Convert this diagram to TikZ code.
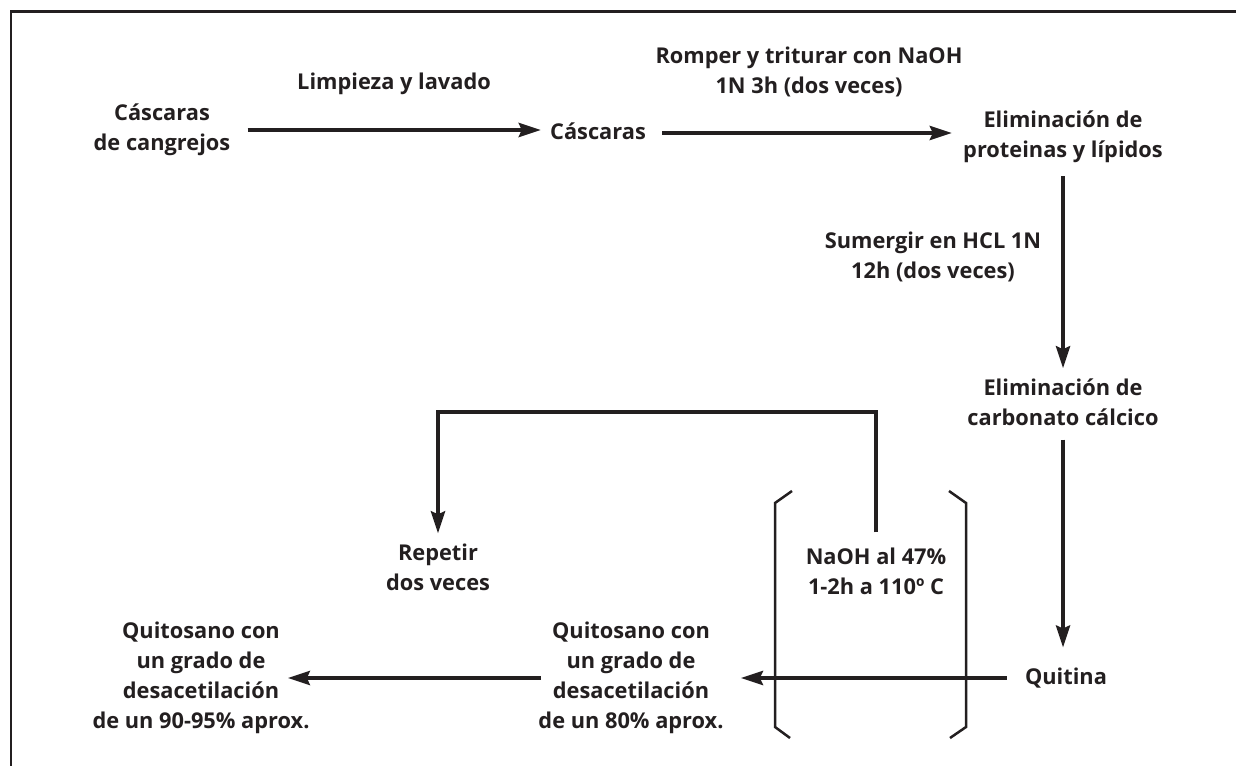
\documentclass[tikz,border=0pt]{standalone}
\usepackage{fontspec}
\setmainfont{Open Sans}[Ligatures=NoCommon]
\usetikzlibrary{arrows.meta}
\definecolor{tinta}{RGB}{35,31,32}

\begin{document}
\begin{tikzpicture}[x=0.02cm, y=-0.02cm, color=tinta,
    texto/.style={align=center, inner sep=0pt, font=\bfseries\fontsize{12.4}{17}\selectfont},
    flecha/.style={line width=0.08cm, line join=miter, -{Stealth[length=0.44cm, width=0.28cm, inset=0.06cm]}},
    corchete/.style={line width=0.05cm}]
	%%%%% START %%%%%
	
	\useasboundingbox (0,0) rectangle (1236,766);
	\draw[line width=0.06cm] (1236,12) -- (11,12) -- (11,766);
	
	\node[texto] (cangrejos) at (162,130) {Cáscaras\\de cangrejos};
	\node[texto] (cascaras) at (598,131) {Cáscaras};
	\node[texto] (proteinas) at (1063,137) {Eliminación de\\proteinas y lípidos};
	\node[texto] (carbonato) at (1063,402) {Eliminación de\\carbonato cálcico};
	\node[texto] (quitina) at (1066,678) {Quitina};
	\node[texto] (ochenta) at (631,678) {Quitosano con\\un grado de\\desacetilación\\de un 80\% aprox.};
	\node[texto] (noventa) at (201,678) {Quitosano con\\un grado de\\desacetilación\\de un 90-95\% aprox.};
	\node[texto] (repetir) at (438,567) {Repetir\\dos veces};
	\node[texto] (naoh) at (876,571) {NaOH al 47\%\\1-2h a 110º C};
	
	\node[texto] (limpieza) at (394,84) {Limpieza y lavado};
	\node[texto] (romper) at (809,72) {Romper y triturar con NaOH\\1N 3h (dos veces)};
	\node[texto] (sumergir) at (933,257) {Sumergir en HCL 1N\\12h (dos veces)};
	
	\draw[flecha, shorten <=0.34cm, shorten >=0.18cm] (cangrejos.east) -- (cangrejos.east -| cascaras.west);
	\draw[flecha, shorten <=0.32cm, shorten >=0.22cm] (cascaras.east |- 0,133) -- (proteinas.west |- 0,133);
	\draw[flecha, shorten <=0.26cm, shorten >=0.2cm] (proteinas.south) -- (carbonato.north);
	\draw[flecha, shorten <=0.28cm, shorten >=0.4cm] (carbonato.south) -- (carbonato.south |- quitina.north);
	\draw[flecha, shorten <=0.36cm, shorten >=0.34cm] (quitina.west) -- (ochenta.east);
	\draw[flecha, shorten <=-0.06cm, shorten >=-0.44cm] (ochenta.west) -- (noventa.east);
	
	\coordinate (retorno) at (0,412);
	\draw[flecha, shorten <=0.3cm, shorten >=0.2cm] (naoh.north) -- (naoh.north |- retorno) -- (repetir.north |- retorno) -- (repetir.north);
	
	\draw[corchete] (792,491) -- (775,503) -- (775,727) -- (790,738);
	\draw[corchete] (949,491) -- (966,503) -- (966,727) -- (950,738);
	
	%%%%% END %%%%%
\end{tikzpicture}
\end{document}
